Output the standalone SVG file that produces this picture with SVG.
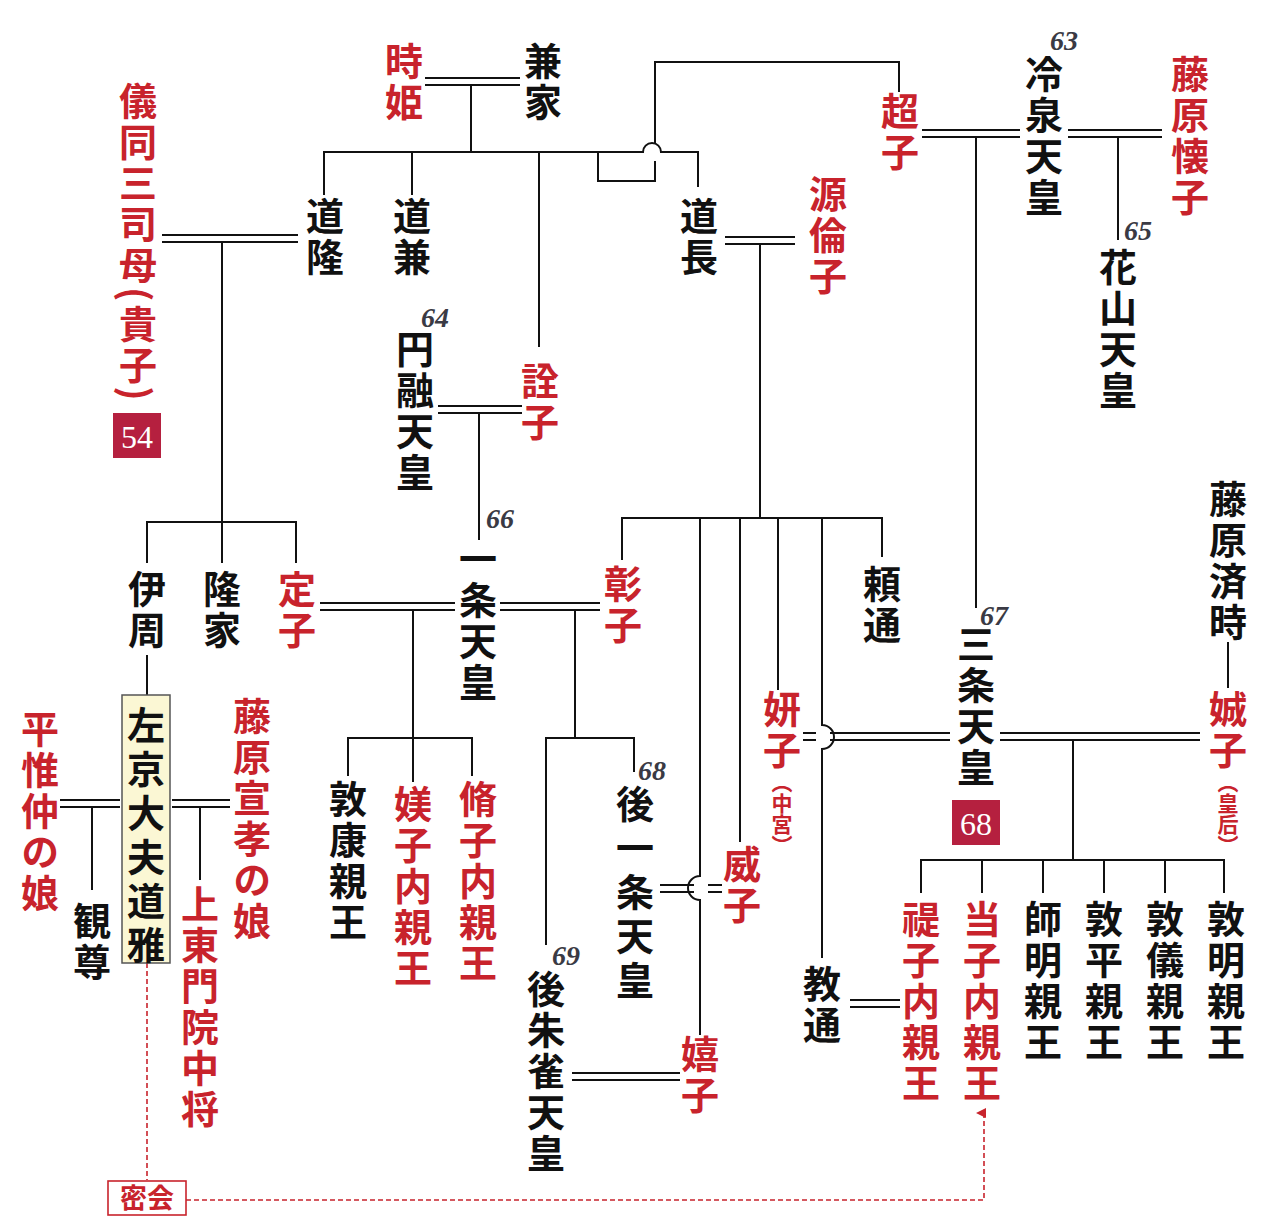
<svg xmlns="http://www.w3.org/2000/svg" width="1280" height="1224" viewBox="0 0 1280 1224">
<style>
.v{writing-mode:vertical-rl;font-family:"Noto Sans CJK JP","Noto Sans CJK SC",sans-serif;font-size:38px;font-weight:700;letter-spacing:3px;fill:#111}
.r{fill:#c8232c}
.s{font-size:21px;letter-spacing:0}
.n{font-family:"Liberation Serif",serif;font-style:italic;font-weight:700;font-size:28px;fill:#3a3a44}
.ln{fill:none;stroke:#111;stroke-width:2}
.dl{fill:none;stroke:#c8232c;stroke-width:1.6;stroke-dasharray:5 3}
</style>
<defs><marker id="ar" markerWidth="10" markerHeight="10" refX="5" refY="8" orient="auto-start-reverse" markerUnits="userSpaceOnUse"><path d="M0 10 L5 0 L10 10Z" fill="#c8232c" transform="rotate(0)"/></marker></defs>
<rect width="1280" height="1224" fill="#fff"/>
<g id="connectors">
<path class="ln" d="M425 78H520M425 85H520M471 85V152M324 195V152H643A9 9 0 0 1 661 152H698V187M412 152V195M539 152V347M598 152V181H655V161M655 143V62H899V92"/>
<path class="ln" d="M162 235H298M162 242H298M222 242V522M147 563V522H296V563M222 522V563"/>
<path class="ln" d="M438 406H522M438 413H522M479 413V540"/>
<path class="ln" d="M725 237H795M725 244H795M760 244V518M622 560V518H882V557M778 518V690M740 518V842M822 518V725A12 12 0 0 1 822 749V958M700 518V876A12 12 0 0 0 700 900V1035"/>
<path class="ln" d="M922 130H1020M922 137H1020M976 137V608M1068 130H1162M1068 137H1162M1118 137V240"/>
<path class="ln" d="M320 603H455M320 610H455M500 603H600M500 610H600M413 610V782M348 776V738H472V776M575 610V738M546 945V738H634V772"/>
<path class="ln" d="M1228 642V688M1000 733H1200M1000 740H1200M1073 740V860M921 893V860H1224V893M982 860V893M1043 860V893M1104 860V893M1165 860V893"/>
<path class="ln" d="M803 733H816M803 740H816M830 733H950M830 740H950M660 885H694M660 892H694M708 885H722M708 892H722M572 1073H680M572 1080H680M850 1000H900M850 1007H900"/>
<path class="ln" d="M60 800H120M60 807H120M92 807V890M172 800H230M172 807H230M200 807V880M147 655V695"/>
<path class="dl" d="M147 963V1180M186 1200H984V1113" marker-end="url(#ar)"/>
</g>
<g id="n-tokihime"><text class="v r" x="404" y="42">時姫</text></g>
<g id="n-kaneie"><text class="v" x="543" y="42">兼家</text></g>
<g id="n-kishi"><text class="v r" x="138" y="82">儀同三司母(貴子)</text><rect x="113" y="413" width="48" height="45" fill="#b5203f"/><text x="137" y="448" text-anchor="middle" font-family="Liberation Serif,serif" font-size="32" fill="#fff">54</text></g>
<g id="n-michitaka"><text class="v" x="325" y="197">道隆</text></g>
<g id="n-michikane"><text class="v" x="412" y="197">道兼</text></g>
<g id="n-enyu"><text class="n" x="421" y="327">64</text><text class="v" x="415" y="330">円融天皇</text></g>
<g id="n-senshi"><text class="v r" x="540" y="362">詮子</text></g>
<g id="n-michinaga"><text class="v" x="699" y="197">道長</text></g>
<g id="n-rinshi"><text class="v r" x="828" y="175">源倫子</text></g>
<g id="n-choshi"><text class="v r" x="900" y="92">超子</text></g>
<g id="n-reizei"><text class="n" x="1050" y="50">63</text><text class="v" x="1044" y="55">冷泉天皇</text></g>
<g id="n-kaishi"><text class="v r" x="1190" y="55">藤原懐子</text></g>
<g id="n-kazan"><text class="n" x="1124" y="240">65</text><text class="v" x="1118" y="248">花山天皇</text></g>
<g id="n-korechika"><text class="v" x="147" y="570">伊周</text></g>
<g id="n-takaie"><text class="v" x="222" y="570">隆家</text></g>
<g id="n-teishi"><text class="v r" x="297" y="570">定子</text></g>
<g id="n-ichijo"><text class="n" x="486" y="528">66</text><text class="v" x="478" y="540">一条天皇</text></g>
<g id="n-shoshi"><text class="v r" x="623" y="565">彰子</text></g>
<g id="n-yorimichi"><text class="v" x="882" y="565">頼通</text></g>
<g id="n-sanjo"><text class="n" x="980" y="625">67</text><text class="v" x="976" y="625">三条天皇</text><rect x="952" y="800" width="48" height="45" fill="#b5203f"/><text x="976" y="835" text-anchor="middle" font-family="Liberation Serif,serif" font-size="32" fill="#fff">68</text></g>
<g id="n-naritoki"><text class="v" x="1228" y="480">藤原済時</text></g>
<g id="n-seishi"><text class="v r" x="1228" y="690">娍子</text><text class="v r s" x="1228" y="772">（皇后）</text></g>
<g id="n-kenshi"><text class="v r" x="782" y="690">妍子</text><text class="v r s" x="782" y="772">（中宮）</text></g>
<g id="n-ishi"><text class="v r" x="742" y="845">威子</text></g>
<g id="n-kishi2"><text class="v r" x="700" y="1035">嬉子</text></g>
<g id="n-norimichi"><text class="v" x="822" y="965">教通</text></g>
<g id="n-goichijo"><text class="n" x="638" y="780">68</text><text class="v" x="635" y="785" style="letter-spacing:6px">後一条天皇</text></g>
<g id="n-gosuzaku"><text class="n" x="552" y="965">69</text><text class="v" x="546" y="970">後朱雀天皇</text></g>
<g id="n-atsuyasu"><text class="v" x="348" y="780">敦康親王</text></g>
<g id="n-bishi"><text class="v r" x="413" y="785">媄子内親王</text></g>
<g id="n-shushi"><text class="v r" x="478" y="780">脩子内親王</text></g>
<g id="n-shishi"><text class="v r" x="921" y="900">禔子内親王</text></g>
<g id="n-toshi"><text class="v r" x="982" y="900">当子内親王</text></g>
<g id="n-moroakira"><text class="v" x="1043" y="900">師明親王</text></g>
<g id="n-atsuhira"><text class="v" x="1104" y="900">敦平親王</text></g>
<g id="n-atsunori"><text class="v" x="1165" y="900">敦儀親王</text></g>
<g id="n-atsuakira"><text class="v" x="1226" y="900">敦明親王</text></g>
<g id="n-michimasa"><rect x="122" y="695" width="48" height="268" fill="#fbf7d4" stroke="#555" stroke-width="1.5"/><text class="v" x="146" y="706" style="letter-spacing:6px">左京大夫道雅</text></g>
<g id="n-korenaka"><text class="v r" x="40" y="710">平惟仲の娘</text></g>
<g id="n-kanson"><text class="v" x="92" y="902">観尊</text></g>
<g id="n-nobutaka"><text class="v r" x="252" y="697">藤原宣孝の娘</text></g>
<g id="n-chujo"><text class="v r" x="200" y="885">上東門院中将</text></g>
<g id="n-mikkai"><rect x="108" y="1181" width="78" height="34" fill="#fff" stroke="#c8232c" stroke-width="1.6"/><text x="147" y="1208" text-anchor="middle" font-family="Noto Sans CJK JP,sans-serif" font-weight="700" font-size="27" fill="#c8232c">密会</text></g>
</svg>
